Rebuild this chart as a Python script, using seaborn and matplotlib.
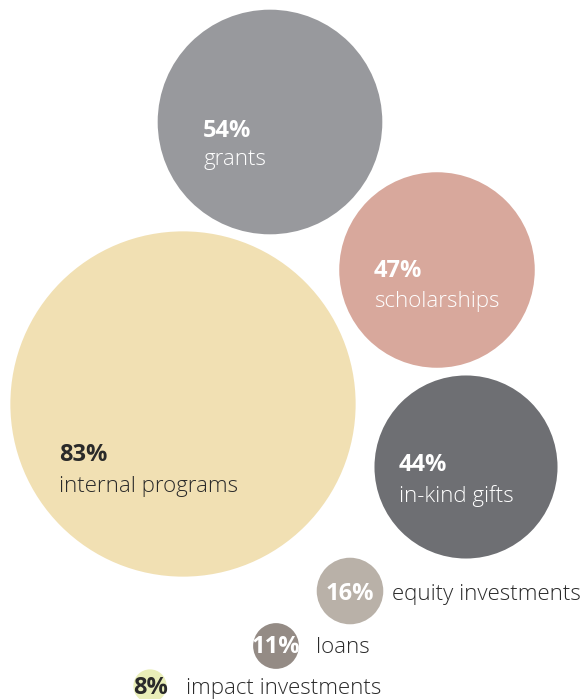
import matplotlib
matplotlib.use("Agg")
import matplotlib.pyplot as plt
import seaborn as sns
import pandas as pd

# ---- data ----
categories = ["grants", "scholarships", "internal programs", "in-kind gifts",
              "equity investments", "loans", "impact investments"]
values = [54, 47, 83, 44, 16, 11, 8]
labels = ["54%", "47%", "83%", "44%", "16%", "11%", "8%"]

# ---- layout (pixel space) ----
x_pos = [270, 437, 183, 466, 350, 276, 150]
y_pos = [122, 270, 404, 467, 591, 646, 686]
colors = ["#98999d", "#d8a89c", "#f1e0b3", "#6e6f73", "#b9b1a8", "#948b85", "#e9eeb8"]

W, H, DPI = 587, 699, 100
R_PX = 2.08  # radius in px per percentage point

sns.set_theme(style="white")
plt.rcParams["font.family"] = ["Open Sans", "DejaVu Sans"]

df = pd.DataFrame({"category": categories, "value": values, "x": x_pos, "y": y_pos})
palette = dict(zip(categories, colors))
sizes = {c: (2 * R_PX * v * 72 / DPI) ** 2 for c, v in zip(categories, values)}

fig = plt.figure(figsize=(W / DPI, H / DPI), dpi=DPI)
ax = fig.add_axes([0, 0, 1, 1])
sns.scatterplot(data=df, x="x", y="y", hue="category", size="category",
                palette=palette, sizes=sizes, linewidth=0, alpha=1,
                legend=False, ax=ax, zorder=1)
ax.set_xlim(0, W)
ax.set_ylim(H, 0)
ax.set_axis_off()

FS = 16
FSP = 17
white = "white"
dark = "#2a2a2a"

# inside labels: (index, x_left, y_pct_baseline, y_label_baseline, color)
inside = [(0, 203, 137, 165, white),
          (1, 374, 277, 307, white),
          (2, 59, 461, 492, dark),
          (3, 399, 471, 502, white)]
for i, xl, yp, yl, col in inside:
    ax.text(xl, yp, labels[i], fontsize=FSP, fontweight="bold", color=col, va="baseline", ha="left")
    ax.text(xl, yl, categories[i], fontsize=FS, fontweight="light", color=col, va="baseline", ha="left")

# small bubbles: pct centred / placed, category to the right
small = [(4, 350, "center", white, 392, 600),
         (5, 276, "center", white, 316, 653),
         (6, 133, "left", dark, 186, 694)]
for i, xp, ha, col, xl, yb in small:
    ax.text(xp, yb, labels[i], fontsize=FSP, fontweight="bold", color=col, va="baseline", ha=ha)
    ax.text(xl, yb, categories[i], fontsize=FS, fontweight="light", color=dark, va="baseline", ha="left")

fig.savefig("out.png", dpi=DPI)
